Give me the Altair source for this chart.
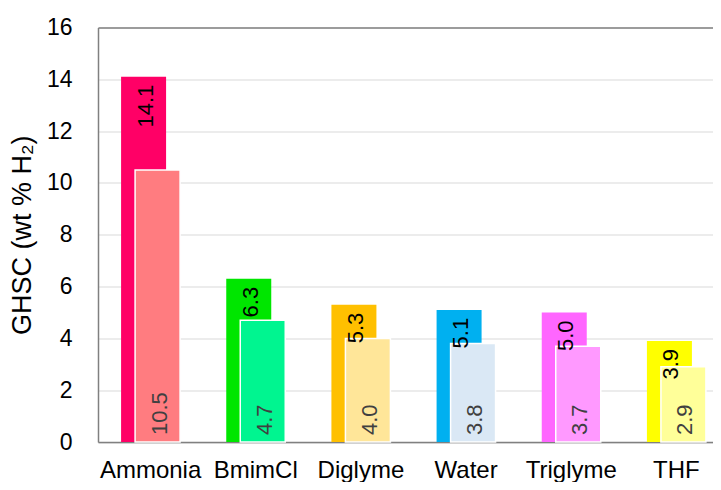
import altair as alt
import pandas as pd

categories = ["Ammonia", "BmimCl", "Diglyme", "Water", "Triglyme", "THF"]
back_values = [14.1, 6.3, 5.3, 5.1, 5.0, 3.9]
front_values = [10.5, 4.7, 4.0, 3.8, 3.7, 2.9]
back_colors = ["#FF0066", "#00E600", "#FFC000", "#00B0F0", "#FF66FF", "#FFFF00"]
front_colors = ["#FF7C80", "#00F590", "#FFE699", "#DAE8F5", "#FF99FF", "#FFFF99"]
y_ticks = [0, 2, 4, 6, 8, 10, 12, 14, 16]

df = pd.DataFrame({
    "Category": categories,
    "back": back_values,
    "front": front_values,
    "back_color": back_colors,
    "front_color": front_colors,
    "zero": [0] * len(categories),
})

FONT = "Liberation Sans"

x_enc = alt.X(
    "Category:N",
    sort=categories,
    scale=alt.Scale(range=[0, 631], paddingInner=0, paddingOuter=0),
    axis=alt.Axis(
        title=None, labelAngle=0, labelFontSize=24, labelPadding=16, ticks=False,
        domainColor="#808080", domainWidth=1.5, labelColor="#000000", grid=False,
        labelFont=FONT,
    ),
)

y_scale = alt.Scale(domain=[0, 16], nice=False)

back_bars = alt.Chart(df).mark_bar(size=45, xOffset=-7).encode(
    x=x_enc,
    y=alt.Y(
        "back:Q",
        scale=y_scale,
        axis=alt.Axis(
            title="GHSC (wt % H₂)", values=y_ticks, ticks=False, labelFontSize=23,
            labelPadding=26, labelColor="#000000", titleFontSize=27,
            titleFontWeight="normal", titleColor="#000000", titlePadding=10,
            domainColor="#808080", domainWidth=1.5, labelFont=FONT, titleFont=FONT,
            gridColor=alt.condition("datum.value == 16", alt.value("#808080"), alt.value("#D9D9D9")),
            gridWidth=alt.condition("datum.value == 16", alt.value(1.5), alt.value(1)),
        ),
    ),
    color=alt.Color("back_color:N", scale=None),
)

front_bars = alt.Chart(df).mark_bar(size=45, xOffset=7, stroke="white", strokeWidth=1.5).encode(
    x=x_enc,
    y=alt.Y("front:Q", scale=y_scale),
    color=alt.Color("front_color:N", scale=None),
)

front_labels = alt.Chart(df).mark_text(
    angle=270, align="left", baseline="middle", xOffset=7, dx=7, dy=2,
    fontSize=22, font=FONT, color="#404040",
).encode(
    x=x_enc,
    y=alt.Y("zero:Q", scale=y_scale),
    text=alt.Text("front:Q", format=".1f"),
)

back_labels = alt.Chart(df).mark_text(
    angle=270, align="right", baseline="middle", xOffset=-7, dx=-8, dy=2,
    fontSize=22, font=FONT, color="#000000",
).encode(
    x=x_enc,
    y=alt.Y("back:Q", scale=y_scale),
    text=alt.Text("back:Q", format=".1f"),
)

chart = alt.layer(back_bars, front_bars, front_labels, back_labels).properties(
    width=615, height=414.5,
    autosize=alt.AutoSizeParams(type="none"),
    padding={"left": 90, "top": 19.5, "right": 0, "bottom": 40},
).configure_view(stroke=None).configure(background="white")

chart.save("out.html", embed_options={"renderer": "svg", "actions": False})
